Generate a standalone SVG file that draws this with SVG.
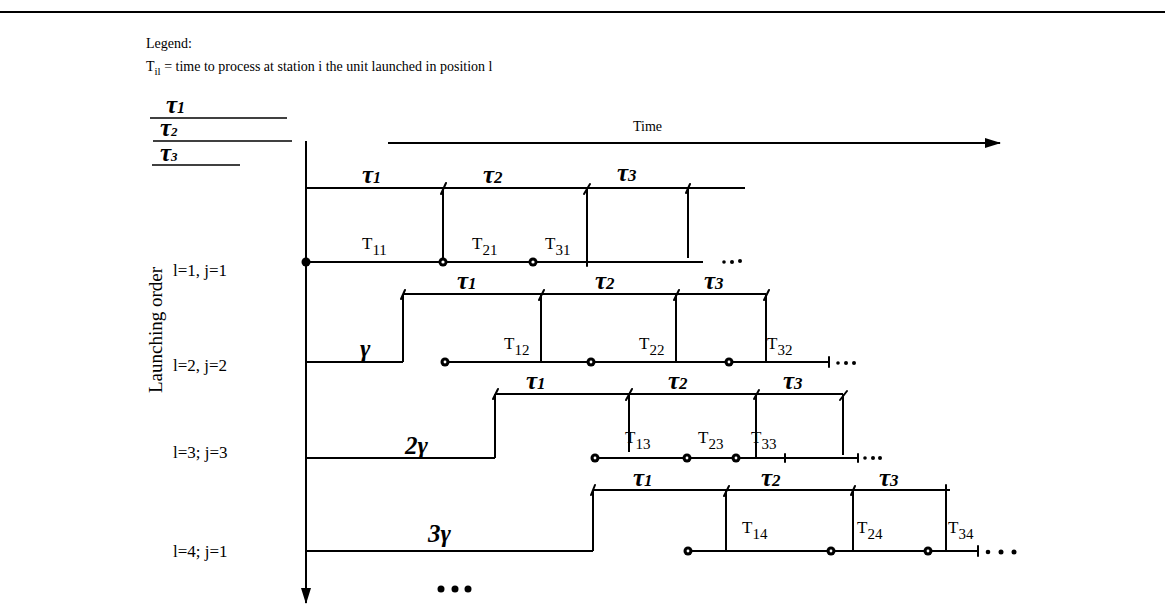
<svg xmlns="http://www.w3.org/2000/svg" width="1165" height="615" viewBox="0 0 1165 615">
<defs>
<style>
.ln{stroke:#000;stroke-width:2;fill:none}
.thin{stroke:#000;stroke-width:1.5;fill:none}
.tk{stroke:#000;stroke-width:2;fill:none;stroke-linecap:round}
.t{font-family:"Liberation Serif",serif;fill:#000}
.lab{font-family:"Liberation Serif",serif;font-size:17px;fill:#000}
.tl{font-family:"Liberation Serif",serif;font-size:17px;fill:#000}
.tau{font-family:"Liberation Serif",serif;font-style:italic;font-weight:bold;font-size:25px;fill:#000}
.g{font-family:"Liberation Serif",serif;font-style:italic;font-weight:bold;font-size:25px;fill:#000}
.dot{fill:#000}
</style>
<marker id="ah" viewBox="0 0 16 10" refX="15" refY="5" markerWidth="16" markerHeight="10" markerUnits="userSpaceOnUse" orient="auto">
<path d="M0,0 L16,5 L0,10 Z" fill="#000"/>
</marker>
<marker id="ahv" viewBox="0 0 10 16" refX="5" refY="15" markerWidth="10" markerHeight="16" markerUnits="userSpaceOnUse" orient="0">
<path d="M0,0 L5,16 L10,0 Z" fill="#000"/>
</marker>
</defs>
<rect width="1165" height="615" fill="#fff"/>
<line x1="0" y1="12" x2="1165" y2="12" class="ln"/>

<g id="legend">
<text class="t" x="146" y="48" font-size="14">Legend:</text>
<text class="t" x="146" y="71" font-size="14">T<tspan font-size="11" dy="4">il</tspan><tspan dy="-4"> = time to process at station i the unit launched in position l</tspan></text>
<text class="tau" x="166" y="113">τ<tspan font-size="16">1</tspan></text>
<line x1="150" y1="118" x2="287" y2="118" class="thin"/>
<text class="tau" x="160" y="136" font-size="17">τ<tspan font-size="13">2</tspan></text>
<line x1="153" y1="141" x2="292" y2="141" class="thin"/>
<text class="tau" x="160" y="161" font-size="17">τ<tspan font-size="13">3</tspan></text>
<line x1="152" y1="165" x2="240" y2="165" class="thin"/>
</g>

<g id="axes">
<line x1="306" y1="141" x2="306" y2="603" class="ln" marker-end="url(#ahv)"/>
<line x1="388" y1="143" x2="1000" y2="143" class="ln" marker-end="url(#ah)"/>
<text class="t" x="633" y="131" font-size="14">Time</text>
<text class="t" font-size="19" transform="translate(162,330) rotate(-90)" text-anchor="middle">Launching order</text>
<text class="lab" x="173" y="276">l=1, j=1</text>
<text class="lab" x="173" y="371">l=2, j=2</text>
<text class="lab" x="173" y="458">l=3; j=3</text>
<text class="lab" x="173" y="557">l=4; j=1</text>
</g>

<g id="row1">
<g class="ln">
<line x1="306" y1="188" x2="745" y2="188"/>
<line x1="443" y1="188" x2="443" y2="262"/>
<line x1="587" y1="188" x2="587" y2="262"/>
<line x1="688" y1="188" x2="688" y2="258"/>
<line x1="306" y1="262" x2="703" y2="262"/>
</g>
<g class="tk">
<line x1="441" y1="194" x2="446" y2="183"/>
<line x1="584" y1="194" x2="590" y2="184"/>
<line x1="686" y1="193" x2="690" y2="184"/>
<line x1="587" y1="258" x2="587" y2="266"/>
</g>
<circle cx="306" cy="262" r="4.5" class="dot"/>
<circle cx="443" cy="262" r="4.5" class="dot"/><circle cx="443" cy="262" r="1.6" fill="#fff"/>
<circle cx="533" cy="262" r="4.5" class="dot"/><circle cx="533" cy="262" r="1.6" fill="#fff"/>
<circle cx="724" cy="262" r="1.8" class="dot"/><circle cx="732" cy="262" r="2" class="dot"/><circle cx="740" cy="261" r="2" class="dot"/>
<text class="tau" x="362" y="183">τ<tspan font-size="16">1</tspan></text>
<text class="tau" x="483" y="183">τ<tspan font-size="17">2</tspan></text>
<text class="tau" x="617" y="181">τ<tspan font-size="17">3</tspan></text>
<text class="tl" x="362" y="249">T<tspan font-size="15" dy="6">11</tspan></text>
<text class="tl" x="472" y="249">T<tspan font-size="15" dy="6">21</tspan></text>
<text class="tl" x="545" y="249">T<tspan font-size="15" dy="6">31</tspan></text>
</g>

<g id="row2">
<g class="ln">
<line x1="306" y1="362" x2="403" y2="362"/>
<line x1="403" y1="294" x2="403" y2="362"/>
<line x1="403" y1="294" x2="766" y2="294"/>
<line x1="541" y1="294" x2="541" y2="362"/>
<line x1="676" y1="294" x2="676" y2="362"/>
<line x1="766" y1="294" x2="766" y2="362"/>
<line x1="445" y1="362" x2="829" y2="362"/>
</g>
<g class="tk">
<line x1="401" y1="299" x2="405" y2="290"/>
<line x1="539" y1="300" x2="544" y2="290"/>
<line x1="674" y1="300" x2="679" y2="290"/>
<line x1="764" y1="300" x2="769" y2="290"/>
<line x1="829" y1="357" x2="829" y2="367"/>
</g>
<circle cx="445" cy="362" r="4.5" class="dot"/><circle cx="445" cy="362" r="1.4" fill="#fff"/>
<circle cx="591" cy="362" r="4.5" class="dot"/><circle cx="591" cy="362" r="1.4" fill="#fff"/>
<circle cx="729" cy="362" r="4.5" class="dot"/><circle cx="729" cy="362" r="1.4" fill="#fff"/>
<circle cx="838" cy="363" r="1.8" class="dot"/><circle cx="846" cy="363" r="2" class="dot"/><circle cx="854" cy="363" r="2" class="dot"/>
<text class="g" x="360" y="357">γ</text>
<text class="tau" x="457" y="289">τ<tspan font-size="17">1</tspan></text>
<text class="tau" x="595" y="289">τ<tspan font-size="17">2</tspan></text>
<text class="tau" x="704" y="289">τ<tspan font-size="17">3</tspan></text>
<text class="tl" x="504" y="349">T<tspan font-size="15" dy="6">12</tspan></text>
<text class="tl" x="639" y="349">T<tspan font-size="15" dy="6">22</tspan></text>
<text class="tl" x="767" y="349">T<tspan font-size="15" dy="6">32</tspan></text>
</g>

<g id="row3">
<g class="ln">
<line x1="306" y1="458" x2="495" y2="458"/>
<line x1="495" y1="394" x2="495" y2="458"/>
<line x1="495" y1="394" x2="843" y2="394"/>
<line x1="629" y1="394" x2="629" y2="452"/>
<line x1="756" y1="394" x2="756" y2="458"/>
<line x1="843" y1="394" x2="843" y2="455"/>
<line x1="595" y1="458" x2="858" y2="458"/>
</g>
<g class="tk">
<line x1="493" y1="399" x2="498" y2="389"/>
<line x1="626" y1="400" x2="632" y2="389"/>
<line x1="754" y1="399" x2="759" y2="390"/>
<line x1="840" y1="400" x2="847" y2="391"/>
<line x1="785" y1="454" x2="785" y2="462"/>
<line x1="858" y1="454" x2="858" y2="462"/>
</g>
<circle cx="595" cy="458" r="4.5" class="dot"/><circle cx="595" cy="458" r="1.4" fill="#fff"/>
<circle cx="687" cy="458" r="4.5" class="dot"/><circle cx="687" cy="458" r="1.4" fill="#fff"/>
<circle cx="736" cy="458" r="4.5" class="dot"/><circle cx="736" cy="458" r="1.4" fill="#fff"/>
<circle cx="865" cy="458" r="1.8" class="dot"/><circle cx="873" cy="458" r="2" class="dot"/><circle cx="880" cy="458" r="2" class="dot"/>
<text class="g" x="405" y="454">2γ</text>
<text class="tau" x="526" y="389">τ<tspan font-size="17">1</tspan></text>
<text class="tau" x="668" y="389">τ<tspan font-size="17">2</tspan></text>
<text class="tau" x="783" y="389">τ<tspan font-size="17">3</tspan></text>
<text class="tl" x="625" y="443">T<tspan font-size="15" dy="6">13</tspan></text>
<text class="tl" x="698" y="443">T<tspan font-size="15" dy="6">23</tspan></text>
<text class="tl" x="751" y="443">T<tspan font-size="15" dy="6">33</tspan></text>
</g>

<g id="row4">
<g class="ln">
<line x1="306" y1="551" x2="593" y2="551"/>
<line x1="593" y1="490" x2="593" y2="551"/>
<line x1="593" y1="490" x2="950" y2="490"/>
<line x1="726" y1="490" x2="726" y2="551"/>
<line x1="853" y1="490" x2="853" y2="551"/>
<line x1="946" y1="490" x2="946" y2="551"/>
<line x1="688" y1="551" x2="978" y2="551"/>
</g>
<g class="tk">
<line x1="591" y1="495" x2="595" y2="485"/>
<line x1="724" y1="496" x2="729" y2="486"/>
<line x1="851" y1="495" x2="855" y2="486"/>
<line x1="946" y1="485" x2="946" y2="495"/>
<line x1="978" y1="546" x2="978" y2="556"/>
</g>
<circle cx="688" cy="551" r="4.5" class="dot"/><circle cx="688" cy="551" r="1.4" fill="#fff"/>
<circle cx="831" cy="551" r="4.5" class="dot"/><circle cx="831" cy="551" r="1.4" fill="#fff"/>
<circle cx="928" cy="551" r="4.5" class="dot"/><circle cx="928" cy="551" r="1.4" fill="#fff"/>
<circle cx="988" cy="552" r="2.3" class="dot"/><circle cx="1001" cy="552" r="2.5" class="dot"/><circle cx="1014" cy="552" r="2.5" class="dot"/>
<text class="g" x="428" y="542">3γ</text>
<text class="tau" x="633" y="486">τ<tspan font-size="17">1</tspan></text>
<text class="tau" x="761" y="486">τ<tspan font-size="17">2</tspan></text>
<text class="tau" x="879" y="486">τ<tspan font-size="17">3</tspan></text>
<text class="tl" x="742" y="533">T<tspan font-size="15" dy="6">14</tspan></text>
<text class="tl" x="857" y="533">T<tspan font-size="15" dy="6">24</tspan></text>
<text class="tl" x="948" y="533">T<tspan font-size="15" dy="6">34</tspan></text>
</g>

<g id="more">
<circle cx="441" cy="589" r="3.5" class="dot"/>
<circle cx="455" cy="589" r="3.5" class="dot"/>
<circle cx="468" cy="589" r="3.5" class="dot"/>
</g>
</svg>
